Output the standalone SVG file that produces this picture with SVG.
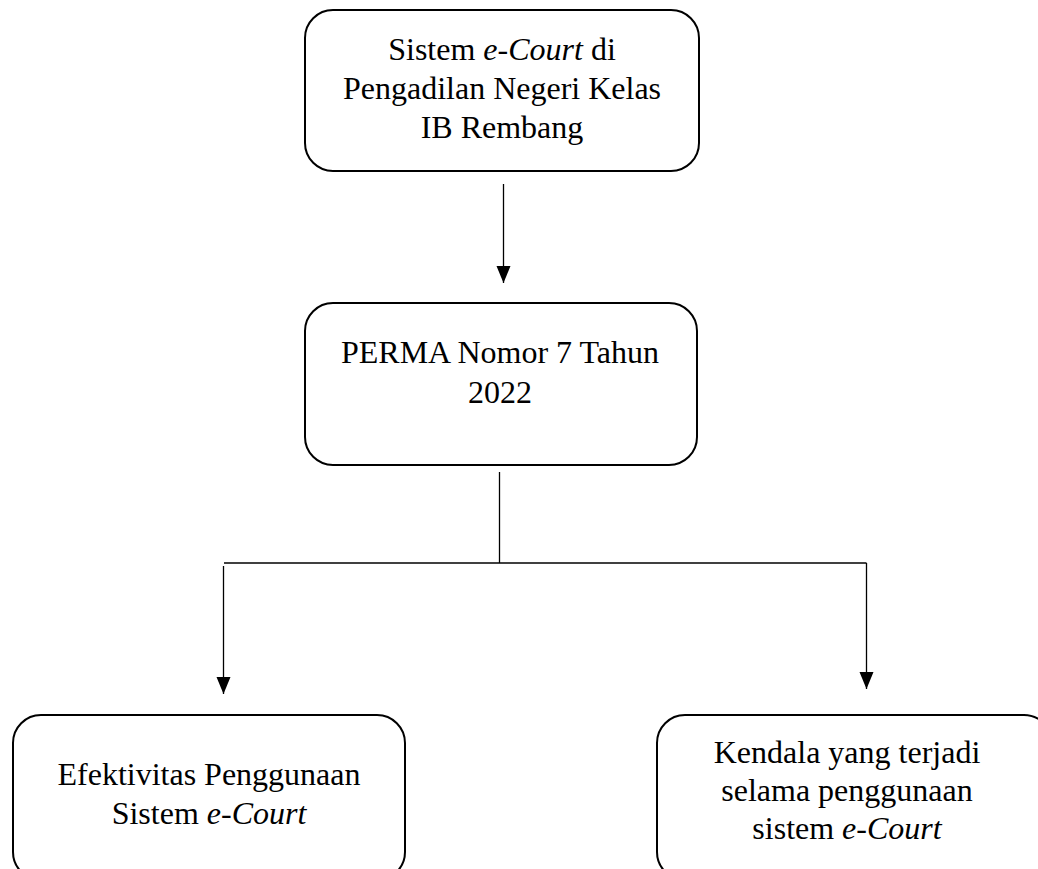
<svg xmlns="http://www.w3.org/2000/svg" width="1038" height="869" viewBox="0 0 1038 869">
  <style>
    .box { fill: #ffffff; stroke: #000000; stroke-width: 2; }
    .t { font-family: "Liberation Serif", "Times New Roman", serif; font-size: 32px; fill: #000000; text-anchor: middle; }
    .i { font-style: italic; }
    .c { fill: none; stroke: #000000; stroke-width: 1.3; }
  </style>
  <defs>
    <marker id="ah" markerUnits="userSpaceOnUse" markerWidth="18" markerHeight="16" refX="17" refY="8" orient="auto" viewBox="0 0 18 16">
      <path d="M0,1 L17,8 L0,15 Z" fill="#000000"/>
    </marker>
  </defs>
  <rect width="1038" height="869" fill="#ffffff"/>

  <g id="node-sistem">
    <rect class="box" x="305" y="10" width="394" height="161" rx="28" ry="28"/>
    <text class="t" x="502" y="60">Sistem <tspan class="i">e-Court</tspan> di</text>
    <text class="t" x="502" y="99">Pengadilan Negeri Kelas</text>
    <text class="t" x="502" y="138">IB Rembang</text>
  </g>

  <g id="node-perma">
    <rect class="box" x="305" y="303" width="392" height="162" rx="28" ry="28"/>
    <text class="t" x="500" y="363">PERMA Nomor 7 Tahun</text>
    <text class="t" x="500" y="403">2022</text>
  </g>

  <g id="node-efektivitas">
    <rect class="box" x="13" y="715" width="392" height="165" rx="28" ry="28"/>
    <text class="t" x="209" y="785">Efektivitas Penggunaan</text>
    <text class="t" x="209" y="824">Sistem <tspan class="i">e-Court</tspan></text>
  </g>

  <g id="node-kendala">
    <rect class="box" x="657" y="715" width="395" height="165" rx="28" ry="28"/>
    <text class="t" x="847" y="763">Kendala yang terjadi</text>
    <text class="t" x="847" y="801">selama penggunaan</text>
    <text class="t" x="847" y="839">sistem <tspan class="i">e-Court</tspan></text>
  </g>

  <g id="connectors">
    <path class="c" d="M503.5,184 L503.5,283" marker-end="url(#ah)"/>
    <path class="c" d="M499.5,472 L499.5,563"/>
    <path class="c" d="M224,563 L866.5,563"/>
    <path class="c" d="M223.5,566 L223.5,694" marker-end="url(#ah)"/>
    <path class="c" d="M866.5,563 L866.5,689" marker-end="url(#ah)"/>
  </g>
</svg>
